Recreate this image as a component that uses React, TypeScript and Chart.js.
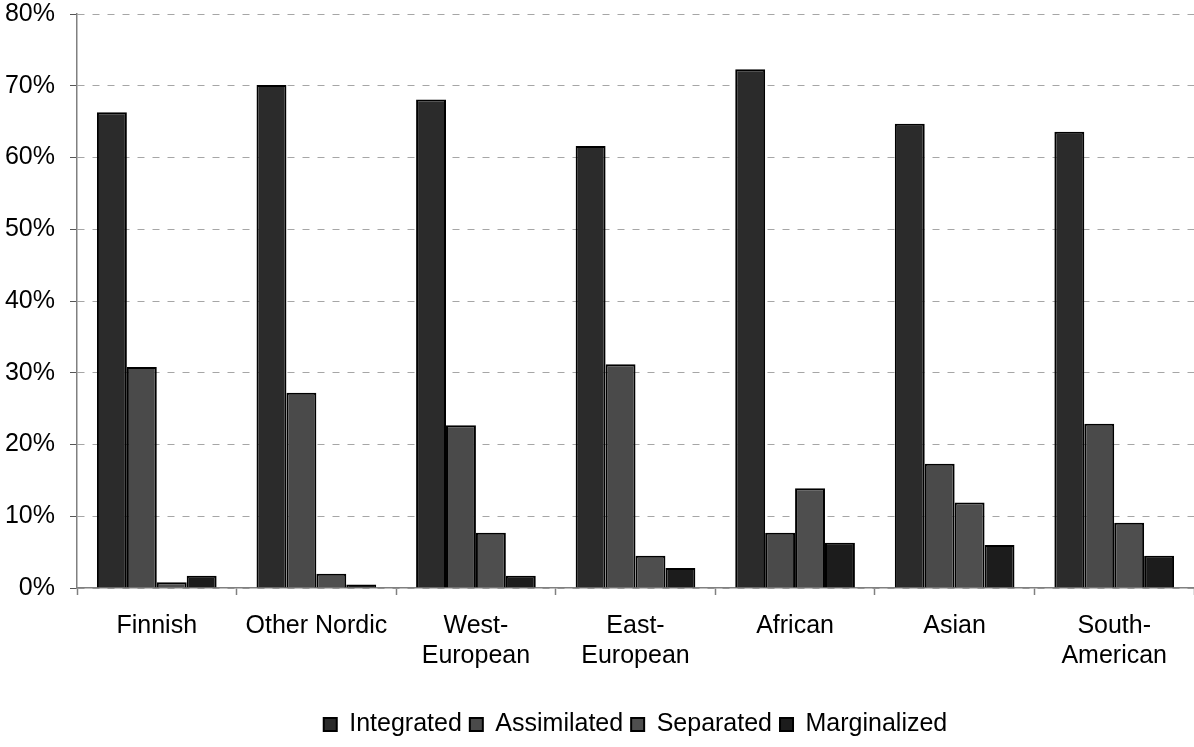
import React, { useEffect, useRef } from "react";
import { Chart, registerables } from "chart.js";

Chart.register(...registerables);

const categories: (string | string[])[] = [
  "Finnish",
  "Other Nordic",
  ["West-", "European"],
  ["East-", "European"],
  "African",
  "Asian",
  ["South-", "American"],
];

const integrated = [66.3, 70.1, 68.1, 61.6, 72.3, 64.7, 63.6];
const assimilated = [30.8, 27.2, 22.7, 31.2, 7.7, 17.3, 22.9];
const separated = [0.8, 2.0, 7.7, 4.5, 13.9, 11.9, 9.1];
const marginalized = [1.7, 0.5, 1.7, 2.8, 6.3, 6.0, 4.5];

const seriesNames = ["Integrated", "Assimilated", "Separated", "Marginalized"];
const seriesColors = ["#2b2b2b", "#4a4a4a", "#4e4e4e", "#1c1c1c"];

const FONT = "'Liberation Sans', Arial, sans-serif";

export default function App() {
  const ref = useRef<HTMLCanvasElement | null>(null);

  useEffect(() => {
    if (!ref.current) return;
    const values = [integrated, assimilated, separated, marginalized];
    const chart = new Chart(ref.current, {
      type: "bar",
      data: {
        labels: categories,
        datasets: values.map((v, i) => ({
          label: seriesNames[i],
          data: v,
          backgroundColor: seriesColors[i],
          borderColor: "#000000",
          borderWidth: 2,
          categoryPercentage: 0.75,
          barPercentage: 1.0,
        })),
      },
      options: {
        animation: false,
        responsive: true,
        maintainAspectRatio: false,
        layout: { autoPadding: false, padding: { top: 14, right: 0, left: 0, bottom: 0 } },
        plugins: {
          tooltip: { enabled: false },
          legend: {
            position: "bottom",
            fullSize: false,
            labels: {
              boxWidth: 13,
              boxHeight: 13,
              padding: 8,
              color: "#000",
              font: { family: FONT, size: 25 },
            },
          },
        },
        scales: {
          x: {
            offset: true,
            afterFit: (s: any) => {
              s.height = 116;
              s.paddingLeft = 0;
              s.paddingRight = 0;
            },
            grid: {
              offset: true,
              drawOnChartArea: false,
              drawTicks: true,
              tickLength: 7,
              tickColor: "#808080",
              tickWidth: 1.5,
            },
            border: { display: true, color: "#808080", width: 1.5 },
            ticks: {
              color: "#000",
              padding: 16,
              maxRotation: 0,
              autoSkip: false,
              font: { family: FONT, size: 25, lineHeight: 1.2 },
            },
          },
          y: {
            min: 0,
            max: 80,
            afterFit: (s: any) => {
              s.width = 77;
              s.paddingTop = 0;
              s.paddingBottom = 0;
            },
            grid: {
              color: "#a6a6a6",
              lineWidth: 1,
              drawTicks: true,
              tickLength: 7,
              tickColor: "#555555",
              tickBorderDash: [],
            },
            border: { display: true, color: "#808080", width: 1.5, dash: [7, 8] },
            ticks: {
              stepSize: 10,
              color: "#000",
              padding: 15,
              font: { family: FONT, size: 25 },
              callback: (v: any) => v + "%",
            },
          },
        },
      },
    });
    return () => chart.destroy();
  }, []);

  return (
    <div style={{ position: "fixed", left: 0, top: 0, width: 1194, height: 747, background: "#fff" }}>
      <canvas ref={ref} />
    </div>
  );
}
